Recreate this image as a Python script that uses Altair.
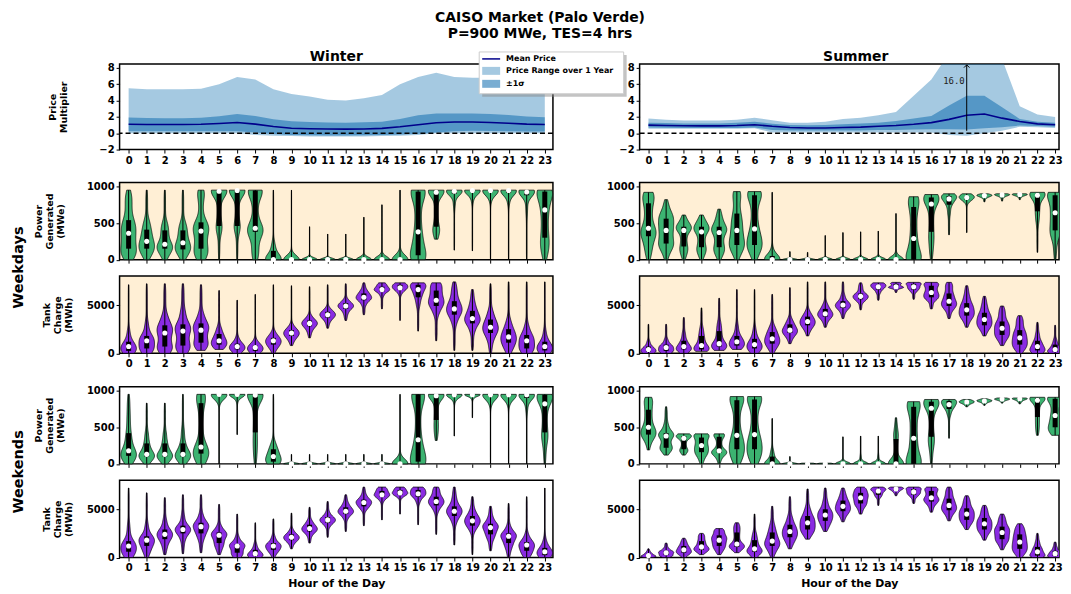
import altair as alt
import numpy as np
import pandas as pd

HOURS = list(range(24))

# ---------------- price multiplier ----------------
W_MEAN = [1.10, 1.08, 1.07, 1.07, 1.10, 1.20, 1.32, 1.12, 0.82, 0.62, 0.56, 0.52,
          0.50, 0.53, 0.60, 0.80, 1.05, 1.28, 1.38, 1.38, 1.32, 1.22, 1.12, 1.08]
W_SD_HI = [1.92, 1.88, 1.85, 1.85, 1.90, 2.08, 2.36, 2.12, 1.72, 1.48, 1.38, 1.32,
           1.30, 1.35, 1.42, 1.75, 2.20, 2.42, 2.42, 2.42, 2.36, 2.25, 2.05, 1.95]
W_SD_LO = [0.25, 0.25, 0.25, 0.25, 0.25, 0.25, 0.25, 0.10, -0.10, -0.20, -0.25, -0.28,
           -0.28, -0.25, -0.20, -0.15, -0.05, 0.10, 0.25, 0.30, 0.28, 0.25, 0.22, 0.22]
W_MAX = [5.5, 5.4, 5.4, 5.4, 5.45, 6.0, 6.9, 6.6, 5.4, 4.8, 4.5, 4.1,
         4.0, 4.3, 4.7, 6.0, 6.9, 7.4, 6.9, 6.8, 6.8, 6.4, 6.0, 5.6]
W_MIN = [0.0, 0.0, 0.0, 0.0, 0.0, 0.0, 0.0, -0.2, -0.3, -0.35, -0.4, -0.4,
         -0.4, -0.4, -0.35, -0.3, -0.2, 0.0, 0.0, 0.0, 0.0, 0.0, 0.0, 0.0]

S_MEAN = [1.00, 0.95, 0.92, 0.90, 0.90, 0.95, 1.05, 0.85, 0.70, 0.65, 0.65, 0.70,
          0.75, 0.85, 0.95, 1.10, 1.30, 1.70, 2.20, 2.35, 1.85, 1.45, 1.15, 1.05]
S_SD_HI = [1.30, 1.25, 1.20, 1.20, 1.20, 1.30, 1.42, 1.15, 1.00, 0.98, 1.02, 1.10,
           1.18, 1.30, 1.50, 1.80, 2.10, 3.40, 4.60, 4.60, 3.20, 1.75, 1.40, 1.30]
S_SD_LO = [0.70, 0.68, 0.65, 0.65, 0.65, 0.65, 0.70, 0.40, 0.35, 0.35, 0.35, 0.35,
           0.35, 0.40, 0.40, 0.45, 0.50, 0.50, 0.45, 0.60, 0.75, 0.95, 0.90, 0.80]
S_MAX = [1.8, 1.65, 1.55, 1.55, 1.55, 1.65, 1.9, 1.6, 1.3, 1.3, 1.4, 1.75,
         1.9, 2.2, 2.6, 4.6, 6.6, 9.8, 16.0, 14.0, 9.1, 3.3, 2.3, 2.0]
S_MIN = [0.55, 0.55, 0.55, 0.55, 0.55, 0.55, 0.6, 0.1, 0.1, 0.1, 0.1, 0.1,
         0.1, 0.1, 0.1, 0.1, 0.1, -0.2, -0.3, 0.0, 0.3, 0.8, 0.75, 0.65]

# ------------- violin quantiles per hour: [min, p10, q1, median, q3, p90, max] -------------
WIN_WD_POWER = [
    [0, 60, 150, 360, 540, 800, 950], [0, 80, 150, 250, 410, 550, 950],
    [0, 80, 150, 210, 400, 520, 950], [0, 80, 140, 230, 400, 520, 950],
    [0, 60, 150, 390, 510, 900, 950], [0, 400, 460, 935, 948, 950, 950],
    [0, 420, 460, 945, 950, 950, 950], [0, 100, 380, 430, 945, 950, 950],
    [0, 0, 0, 0, 120, 250, 950], [0, 0, 0, 0, 0, 30, 950],
    [0, 0, 0, 0, 0, 0, 450], [0, 0, 0, 0, 0, 0, 350],
    [0, 0, 0, 0, 0, 0, 350], [0, 0, 0, 0, 0, 0, 580],
    [0, 0, 0, 0, 0, 0, 750], [0, 0, 0, 0, 0, 100, 950],
    [0, 0, 60, 380, 930, 950, 950], [280, 380, 450, 920, 945, 950, 950],
    [130, 700, 900, 935, 948, 950, 950], [120, 780, 920, 945, 950, 950, 950],
    [0, 800, 920, 945, 950, 950, 950], [0, 750, 910, 945, 950, 950, 950],
    [0, 600, 880, 925, 950, 950, 950], [0, 150, 300, 680, 930, 950, 950],
]
WIN_WD_TANK = [
    [0, 100, 250, 700, 1200, 2500, 7100], [0, 200, 500, 1300, 1800, 3300, 7200],
    [0, 300, 700, 2100, 2900, 4000, 7200], [0, 400, 800, 2300, 3000, 4500, 7200],
    [300, 700, 1100, 2400, 3100, 4200, 7100], [400, 600, 900, 1300, 2000, 2800, 6500],
    [0, 200, 400, 700, 1000, 1700, 5500], [0, 100, 250, 600, 800, 1300, 6100],
    [0, 600, 900, 1300, 1600, 2200, 7100], [800, 1400, 1800, 2100, 2400, 2900, 7000],
    [1600, 2300, 2800, 3100, 3400, 3900, 6900], [2600, 3300, 3700, 4000, 4300, 4700, 7100],
    [3400, 4100, 4600, 4900, 5200, 5600, 7200], [4000, 5000, 5500, 5800, 6200, 6600, 7300],
    [4600, 5900, 6400, 6600, 6900, 7200, 7300], [3400, 6100, 6600, 6800, 7100, 7250, 7300],
    [2300, 4800, 5800, 6600, 7100, 7250, 7300], [1300, 4000, 4900, 5500, 6500, 7200, 7300],
    [300, 3000, 4000, 4600, 5400, 6500, 7400], [300, 2200, 3100, 3600, 4400, 5300, 6600],
    [0, 1300, 2100, 2700, 3500, 4500, 7200], [0, 500, 1100, 1700, 2500, 3500, 7400],
    [0, 200, 500, 1300, 1900, 3000, 7400], [0, 100, 300, 700, 1200, 2500, 7400],
]
SUM_WD_POWER = [
    [0, 150, 320, 430, 770, 900, 920], [0, 150, 220, 400, 560, 650, 820],
    [0, 100, 180, 400, 450, 520, 610], [0, 100, 170, 380, 450, 520, 610],
    [0, 100, 170, 370, 450, 560, 690], [0, 150, 200, 400, 630, 900, 930],
    [0, 150, 200, 420, 880, 920, 930], [0, 0, 0, 0, 50, 150, 920],
    [0, 0, 0, 0, 0, 0, 110], [0, 0, 0, 0, 0, 0, 100],
    [0, 0, 0, 0, 0, 0, 330], [0, 0, 0, 0, 0, 0, 370],
    [0, 0, 0, 0, 0, 30, 380], [0, 0, 0, 0, 0, 40, 390],
    [0, 0, 0, 0, 0, 80, 630], [0, 0, 0, 290, 720, 850, 860],
    [0, 200, 380, 760, 850, 880, 890], [340, 600, 750, 830, 870, 890, 900],
    [370, 780, 820, 850, 870, 890, 900], [790, 840, 860, 875, 885, 895, 900],
    [800, 850, 870, 885, 893, 898, 900], [820, 860, 875, 890, 895, 900, 900],
    [100, 500, 660, 880, 900, 910, 920], [0, 300, 400, 640, 880, 910, 920],
]
SUM_WD_TANK = [
    [0, 50, 150, 400, 700, 1300, 3000], [0, 100, 250, 600, 900, 1500, 3000],
    [0, 200, 400, 700, 1300, 2200, 3700], [200, 300, 400, 800, 1800, 2700, 4700],
    [300, 500, 700, 1000, 2300, 3300, 5700], [400, 600, 800, 1200, 1800, 3100, 6600],
    [0, 300, 500, 900, 1500, 2700, 6600], [0, 600, 1000, 1500, 2200, 2900, 6100],
    [1000, 1700, 2100, 2400, 3000, 3600, 6800], [1800, 2500, 2900, 3300, 3800, 4400, 7400],
    [2700, 3400, 3800, 4100, 4600, 5200, 7400], [3600, 4300, 4700, 5000, 5400, 6100, 7400],
    [4500, 5300, 5600, 5900, 6200, 6800, 7300], [5500, 6200, 6600, 6900, 7100, 7300, 7300],
    [6300, 6700, 6800, 6900, 7200, 7300, 7350], [5600, 6300, 6600, 6900, 7200, 7300, 7350],
    [4600, 5500, 5800, 6300, 7000, 7300, 7350], [3600, 4500, 4900, 5400, 6200, 7000, 7350],
    [2700, 3500, 3900, 4500, 5200, 6000, 7000], [1800, 2500, 2900, 3500, 4200, 5000, 5900],
    [800, 1500, 1900, 2600, 3300, 4200, 4900], [0, 500, 900, 1600, 2400, 3300, 3900],
    [0, 100, 300, 700, 1300, 2100, 3200], [0, 50, 150, 400, 900, 1500, 2900],
]
WIN_WE_POWER = [
    [0, 60, 110, 180, 420, 700, 950], [0, 60, 100, 130, 280, 450, 830],
    [0, 60, 100, 130, 280, 450, 830], [0, 60, 100, 130, 280, 500, 950],
    [0, 80, 140, 230, 830, 950, 950], [0, 850, 930, 950, 950, 950, 950],
    [400, 850, 930, 950, 950, 950, 950], [0, 200, 430, 940, 950, 950, 950],
    [0, 0, 30, 100, 200, 300, 950], [0, 0, 0, 0, 0, 0, 130],
    [0, 0, 0, 0, 0, 0, 130], [0, 0, 0, 0, 0, 0, 130],
    [0, 0, 0, 0, 0, 0, 130], [0, 0, 0, 0, 0, 0, 130],
    [0, 0, 0, 0, 0, 0, 130], [0, 0, 0, 0, 0, 100, 950],
    [0, 0, 30, 330, 950, 950, 950], [320, 450, 600, 930, 950, 950, 950],
    [380, 850, 920, 945, 950, 950, 950], [630, 880, 930, 945, 950, 950, 950],
    [0, 800, 920, 945, 950, 950, 950], [0, 800, 920, 945, 950, 950, 950],
    [0, 700, 900, 945, 950, 950, 950], [0, 300, 430, 820, 945, 950, 950],
]
WIN_WE_TANK = [
    [0, 200, 600, 1200, 1700, 3500, 7200], [0, 600, 1200, 1800, 2200, 3500, 6700],
    [300, 1200, 1900, 2400, 2900, 4000, 6200], [400, 1700, 2500, 2900, 3300, 4500, 6500],
    [500, 1800, 2500, 3200, 3600, 4500, 6500], [300, 1000, 1500, 2300, 2600, 3300, 5500],
    [0, 200, 500, 1200, 1400, 2200, 4500], [0, 50, 150, 400, 800, 1500, 3600],
    [0, 500, 800, 1200, 1500, 2200, 4000], [900, 1500, 1800, 2100, 2400, 2900, 4600],
    [1500, 2300, 2700, 3000, 3400, 3900, 5200], [2100, 3200, 3600, 3900, 4200, 4700, 5800],
    [2700, 4000, 4500, 4800, 5200, 5700, 6500], [3300, 4900, 5300, 5700, 6000, 6500, 7300],
    [3900, 5800, 6300, 6500, 6900, 7200, 7300], [4500, 6200, 6500, 6700, 7000, 7250, 7300],
    [3400, 5600, 6300, 6600, 7000, 7250, 7300], [2400, 4700, 5400, 5800, 6300, 7000, 7300],
    [1300, 3500, 4300, 4800, 5300, 6200, 7300], [300, 2700, 3300, 3800, 4300, 5000, 6300],
    [700, 1800, 2400, 3100, 3500, 4200, 5300], [0, 900, 1500, 2200, 2500, 3300, 5600],
    [0, 300, 700, 1300, 1600, 2500, 6300], [0, 100, 250, 600, 1000, 2000, 7200],
]
SUM_WE_POWER = [
    [190, 350, 400, 500, 740, 880, 910], [120, 200, 220, 380, 420, 550, 780],
    [120, 170, 200, 350, 380, 410, 410], [0, 100, 160, 250, 360, 410, 410],
    [0, 100, 150, 180, 370, 410, 410], [0, 100, 200, 390, 870, 920, 920],
    [0, 100, 200, 400, 880, 920, 920], [0, 0, 0, 0, 100, 200, 620],
    [0, 0, 0, 0, 0, 0, 100], [0, 0, 0, 0, 0, 0, 10],
    [0, 0, 0, 0, 0, 0, 10], [0, 0, 0, 0, 0, 50, 370],
    [0, 0, 0, 0, 0, 120, 380], [0, 0, 0, 0, 0, 120, 380],
    [0, 0, 0, 0, 340, 450, 630], [0, 0, 0, 350, 780, 840, 850],
    [0, 250, 370, 760, 850, 880, 880], [350, 650, 750, 810, 860, 880, 880],
    [780, 810, 830, 845, 860, 875, 880], [800, 830, 850, 860, 870, 880, 890],
    [830, 860, 875, 885, 890, 895, 900], [820, 850, 870, 890, 893, 900, 900],
    [390, 500, 640, 870, 900, 910, 910], [390, 450, 500, 660, 890, 910, 910],
]
SUM_WE_TANK = [
    [0, 50, 100, 200, 400, 600, 900], [0, 100, 250, 500, 700, 1000, 1500],
    [0, 300, 500, 800, 1200, 1600, 2000], [300, 600, 800, 1100, 1700, 2200, 2500],
    [300, 800, 1200, 1800, 2300, 2800, 3000], [500, 900, 1100, 1400, 2600, 3200, 3600],
    [0, 400, 600, 900, 1800, 2600, 4500], [0, 700, 1200, 1700, 2600, 3500, 5300],
    [900, 1600, 2100, 2700, 3400, 4300, 6300], [1900, 2500, 2900, 3600, 4300, 5200, 7100],
    [2700, 3300, 3800, 4400, 5000, 5900, 7200], [3700, 4400, 4800, 5300, 5900, 6500, 7200],
    [4500, 5200, 5600, 6200, 6700, 7100, 7300], [5400, 6200, 6500, 6900, 7100, 7250, 7300],
    [6400, 6700, 6900, 7100, 7200, 7300, 7300], [5600, 6200, 6500, 6800, 7100, 7250, 7300],
    [4700, 5400, 5800, 6200, 6900, 7200, 7300], [3800, 4500, 4900, 5400, 6100, 6800, 7300],
    [2900, 3500, 3900, 4500, 5100, 5800, 6400], [1800, 2500, 2900, 3500, 4100, 4800, 5400],
    [800, 1500, 1900, 2600, 3200, 3900, 4500], [0, 500, 900, 1600, 2400, 3000, 3500],
    [0, 100, 200, 600, 1100, 1700, 2500], [0, 50, 150, 400, 700, 1100, 1600],
]

# ---------------- layout / style ----------------
FONT = "DejaVu Sans"
PANEL = {  # season -> (plot width, x domain)
    "winter": (435, [-0.5, 23.45]),
    "summer": (421, [-0.5, 23.22]),
}
H_PRICE = 86
H_V = 77.5
PRICE_DOM = [-2, 8.5]
POWER_DOM = [0, 1055]
TANK_DOM = [0, 8000]
PV = [-2, 0, 2, 4, 6, 8]
BLUE = "#1f77b4"
GREEN = "#3cb371"
PURPLE = "#8a2be2"
BG = "#ffefd5"
ONE = pd.DataFrame({"k": [0]})
ZERO = pd.DataFrame({"zero": [0.0]})
QP = np.array([0.0, 0.10, 0.25, 0.50, 0.75, 0.90, 1.0])


def violin_shape(qs, span, half=0.43):
    """Kernel-density outline of each hour's distribution, built from its quantiles."""
    rows = []
    counts = np.round(np.diff(QP) * 400).astype(int)
    for h, q in enumerate(qs):
        q = np.asarray(q, dtype=float)
        pts = np.concatenate([q[i] + (q[i + 1] - q[i]) * (np.arange(n) + 0.5) / n
                              for i, n in enumerate(counts)])
        lo, hi = q[0], q[-1]
        if hi - lo < 0.004 * span:
            hi = lo + 0.004 * span
        bw = max(0.33 * pts.std(), 0.012 * span)
        grid = np.linspace(lo, hi, 70)
        dens = np.exp(-0.5 * ((grid[:, None] - pts[None, :]) / bw) ** 2).sum(axis=1)
        w = half * dens / dens.max()
        for g, ww in zip(grid, w):
            rows.append((h, g, h - ww, h + ww))
    return pd.DataFrame(rows, columns=["hour", "value", "left", "right"])


def xenc(field, season, labels, title):
    dom = PANEL[season][1]
    return alt.X(field, type="quantitative",
                 scale=alt.Scale(domain=dom, nice=False, zero=False),
                 axis=alt.Axis(values=HOURS, labels=labels, title=title,
                               labelOverlap=False, labelFlush=False))


def yenc(field, dom, vals, title, tp, fmt=""):
    ax = dict(values=vals, title=title, titlePadding=tp, labelOverlap=False)
    if fmt:
        ax["format"] = fmt
    return alt.Y(field, type="quantitative",
                 scale=alt.Scale(domain=dom, nice=False, zero=False),
                 axis=alt.Axis(**ax))


def txt(s, x, y, size, align="center", angle=0, font=FONT, weight="bold", color="black"):
    return alt.Chart(ONE).mark_text(text=s, fontSize=size, fontWeight=weight, align=align,
                                    baseline="middle", angle=angle, font=font,
                                    color=color).encode(x=alt.value(x), y=alt.value(y))


def rect(x1, x2, y1, y2, **kw):
    return alt.Chart(ONE).mark_rect(**kw).encode(
        x=alt.value(x1), x2=alt.value(x2), y=alt.value(y1), y2=alt.value(y2))


def price_panel(season, mean, sdlo, sdhi, lo, hi, ytitle, tp, extra):
    width = PANEL[season][0]
    df = pd.DataFrame({"hour": HOURS, "mean": mean, "sdlo": sdlo, "sdhi": sdhi,
                       "lo": lo, "hi": hi})
    X = xenc("hour", season, True, None)

    def Y(f):
        return yenc(f, PRICE_DOM, PV, ytitle, tp)

    rng = alt.Chart(df).mark_area(color=BLUE, opacity=0.4, clip=True).encode(
        x=X, y=Y("lo"), y2="hi")
    sd = alt.Chart(df).mark_area(color=BLUE, opacity=0.6, clip=True).encode(
        x=X, y=Y("sdlo"), y2="sdhi")
    ln = alt.Chart(df).mark_line(color="darkblue", strokeWidth=1.6).encode(
        x=X, y=Y("mean"))
    zero = alt.Chart(ZERO).mark_rule(color="black", strokeDash=[5, 3],
                                     strokeWidth=1.3).encode(y=Y("zero"))
    return alt.layer(rng, sd, ln, zero, *extra).properties(
        width=width, height=H_PRICE,
        view=alt.ViewBackground(fill="white", stroke="black", strokeWidth=1.5))


def violin_panel(season, qs, color, ydom, yvals, ytitle, tp, xlabels, xtitle, bg, extra=()):
    width = PANEL[season][0]
    shape = violin_shape(qs, ydom[1])
    st = pd.DataFrame({"hour": HOURS,
                       "vmin": [q[0] for q in qs], "q1": [q[2] for q in qs],
                       "med": [q[3] for q in qs], "q3": [q[4] for q in qs],
                       "vmax": [q[6] for q in qs]})

    def X(f):
        return xenc(f, season, xlabels, xtitle)

    def Y(f):
        return yenc(f, ydom, yvals, ytitle, tp, "d")

    body = alt.Chart(shape).mark_area(orient="horizontal", fill=color, stroke="black",
                                      strokeWidth=0.7, opacity=1,
                                      clip=(season == "summer")).encode(
        x=X("left"), x2="right", y=Y("value"), detail="hour:N")
    whisk = alt.Chart(st).mark_rule(color="black", strokeWidth=1).encode(
        x=X("hour"), y=Y("vmin"), y2="vmax")
    box = alt.Chart(st).mark_rule(color="black", strokeWidth=5).encode(
        x=X("hour"), y=Y("q1"), y2="q3")
    med = alt.Chart(st).mark_circle(color="white", size=26, opacity=1).encode(
        x=X("hour"), y=Y("med"))
    return alt.layer(body, whisk, box, med, *extra).properties(
        width=width, height=H_V,
        view=alt.ViewBackground(fill=bg, stroke="black", strokeWidth=1.5))


def spacer(season):
    return alt.Chart(ONE).mark_point(opacity=0).encode(
        x=alt.value(0), y=alt.value(0)).properties(
        width=PANEL[season][0], height=0.01,
        view=alt.ViewBackground(stroke="transparent", fill="transparent"))


# ---- decorations in the winter price panel (suptitle, season title, legend) ----
legend = [
    rect(364, 509, -9, 33, fill="#888888", opacity=0.5),
    rect(361, 506, -12, 30, fill="white", stroke="#cccccc", strokeWidth=1),
    alt.Chart(ONE).mark_rule(color="darkblue", strokeWidth=1.5).encode(
        x=alt.value(364), x2=alt.value(382), y=alt.value(-5)),
    rect(364, 382, 3, 11, fill="#a5c9e1"),
    rect(364, 382, 16, 24, fill="#79add2"),
    txt("Mean Price", 388, -5, 8, align="left"),
    txt("Price Range over 1 Year", 388, 7, 8, align="left"),
    txt("±1σ", 388, 20, 8, align="left"),
]
win_deco = [
    rect(-111, -110, 0, 1, opacity=0),  # left edge of the figure
    txt("CAISO Market (Palo Verde)", 422, -46.5, 14),
    txt("P=900 MWe, TES=4 hrs", 422, -29.5, 14),
    txt("Winter", PANEL["winter"][0] / 2, -7, 14),
] + legend

# ---- summer peak annotation (from the data) ----
peak_h = int(np.argmax(S_MAX))
ann = pd.DataFrame({"hour": [peak_h], "y0": [0.3], "y1": [PRICE_DOM[1] - 0.12],
                    "ty": [6.4], "lab": [f"{S_MAX[peak_h]:.1f}"]})
sum_deco = [
    txt("Summer", 217, -7, 14),
    alt.Chart(ann).mark_rule(color="black", strokeWidth=1).encode(
        x=xenc("hour", "summer", True, None), y=yenc("y0", PRICE_DOM, PV, None, 4), y2="y1"),
    alt.Chart(ann).mark_point(shape="M -1 1 L 0 0 L 1 1", filled=False, color="black",
                              size=30, strokeWidth=1, opacity=1).encode(
        x=xenc("hour", "summer", True, None), y=yenc("y1", PRICE_DOM, PV, None, 4)),
    alt.Chart(ann).mark_text(font="DejaVu Sans Mono", fontSize=9, align="right", dx=-2,
                             color="#222222").encode(
        x=xenc("hour", "summer", True, None), y=yenc("ty", PRICE_DOM, PV, None, 4),
        text="lab:N"),
]

PT = ["Price", "Multiplier"]
GT = ["Power", "Generated", "(MWe)"]
TT = ["Tank", "Charge", "(MWh)"]
XT = "Hour of the Day"
P3 = [0, 500, 1000]
T2 = [0, 5000]

wp = price_panel("winter", W_MEAN, W_SD_LO, W_SD_HI, W_MIN, W_MAX, PT, 30, win_deco)
sp = price_panel("summer", S_MEAN, S_SD_LO, S_SD_HI, S_MIN, S_MAX, None, 4, sum_deco)

wwp = violin_panel("winter", WIN_WD_POWER, GREEN, POWER_DOM, P3, GT, 21, False, None, BG,
                   [txt("Weekdays", -101, 85.5, 14.5, angle=270)])
swp = violin_panel("summer", SUM_WD_POWER, GREEN, POWER_DOM, P3, None, 4, False, None, BG)
wwt = violin_panel("winter", WIN_WD_TANK, PURPLE, TANK_DOM, T2, TT, 13, True, None, BG)
swt = violin_panel("summer", SUM_WD_TANK, PURPLE, TANK_DOM, T2, None, 4, True, None, BG)
wep = violin_panel("winter", WIN_WE_POWER, GREEN, POWER_DOM, P3, GT, 21, False, None, "white",
                   [txt("Weekends", -101, 85.5, 14.5, angle=270)])
sep = violin_panel("summer", SUM_WE_POWER, GREEN, POWER_DOM, P3, None, 4, False, None, "white")
wet = violin_panel("winter", WIN_WE_TANK, PURPLE, TANK_DOM, T2, TT, 13, True, XT, "white")
set_ = violin_panel("summer", SUM_WE_TANK, PURPLE, TANK_DOM, T2, None, 4, True, XT, "white")

chart = alt.concat(
    wp, sp,
    spacer("winter"), spacer("summer"),
    wwp, swp,
    wwt, swt,
    spacer("winter"), spacer("summer"),
    wep, sep,
    wet, set_,
    columns=2, spacing={"row": 16, "column": 87}, bounds="flush",
).properties(
    padding=0
).configure(font=FONT).configure_view(
    stroke="black", strokeWidth=1.5
).configure_axis(
    labelFont=FONT, labelFontWeight="bold", labelFontSize=10, labelColor="black",
    titleFont=FONT, titleFontWeight="bold", titleFontSize=9.5, titleColor="black",
    titleLineHeight=11, domain=False, grid=False, tickColor="black", tickSize=3.5,
    tickWidth=1, labelPadding=2, labelOverlap=False,
).configure_axisX(titleFontSize=11, titlePadding=5)

chart.save("out.html", embed_options={"renderer": "svg", "actions": False})
